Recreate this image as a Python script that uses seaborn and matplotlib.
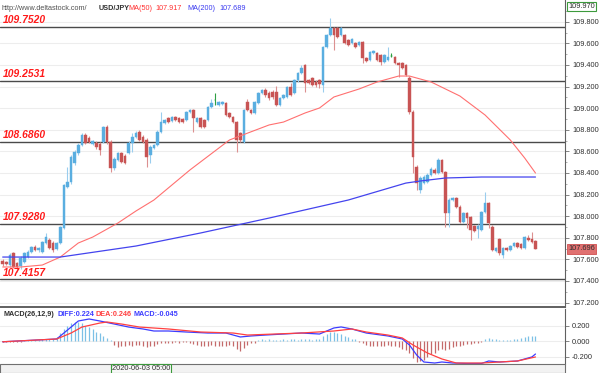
import matplotlib
matplotlib.use("Agg")
import matplotlib.pyplot as plt
import seaborn as sns
from matplotlib.patches import Rectangle

sns.set_style("white")
plt.rcParams["font.family"] = ["Liberation Sans", "DejaVu Sans"]
plt.rcParams["axes.unicode_minus"] = False

# USD/JPY candles (149 bars)
opens = [107.584, 107.575, 107.547, 107.658, 107.566, 107.538, 107.575, 107.621, 107.668, 107.714,
         107.686, 107.668, 107.751, 107.779, 107.751, 107.695, 107.751, 107.890, 108.270, 108.316,
         108.492, 108.584, 108.658, 108.751, 108.723, 108.668, 108.677, 108.668, 108.686, 108.825,
         108.686, 108.445, 108.520, 108.584, 108.557, 108.584, 108.677, 108.733, 108.779, 108.733,
         108.705, 108.566, 108.631, 108.658, 108.779, 108.862, 108.908, 108.881, 108.918, 108.908,
         108.899, 108.890, 108.964, 108.983, 108.871, 108.908, 108.890, 108.890, 109.010, 109.075,
         109.029, 109.038, 109.047, 108.955, 108.918, 108.871, 108.770, 108.686, 109.057, 108.983,
         108.955, 109.047, 109.140, 109.168, 109.140, 109.149, 109.149, 109.029, 109.094, 109.103,
         109.195, 109.140, 109.260, 109.325, 109.399, 109.260, 109.279, 109.242, 109.260, 109.214,
         109.566, 109.677, 109.742, 109.742, 109.677, 109.677, 109.631, 109.603, 109.603, 109.584,
         109.612, 109.464, 109.445, 109.510, 109.510, 109.492, 109.427, 109.445, 109.482, 109.473,
         109.418, 109.418, 109.399, 109.279, 108.964, 108.455, 108.242, 108.307, 108.316, 108.381,
         108.427, 108.399, 108.520, 108.408, 108.029, 108.149, 108.168, 108.084, 107.946, 108.029,
         107.992, 107.908, 107.881, 107.871, 108.038, 108.121, 107.899, 107.677, 107.788, 107.640,
         107.705, 107.686, 107.723, 107.751, 107.742, 107.705, 107.797, 107.788, 107.770]
highs = [107.603, 107.584, 107.658, 107.668, 107.575, 107.631, 107.668, 107.686, 107.723, 107.733,
         107.714, 107.770, 107.844, 107.797, 107.770, 107.760, 107.908, 108.297, 108.455, 108.566,
         108.612, 108.677, 108.770, 108.770, 108.742, 108.705, 108.695, 108.686, 108.834, 108.844,
         108.705, 108.547, 108.594, 108.594, 108.575, 108.695, 108.770, 108.788, 108.797, 108.751,
         108.723, 108.658, 108.668, 108.797, 108.964, 108.899, 108.918, 108.927, 108.927, 108.918,
         108.908, 108.973, 108.992, 108.992, 108.918, 108.918, 108.899, 109.020, 109.084, 109.140,
         109.066, 109.066, 109.057, 108.964, 108.927, 108.881, 108.779, 108.992, 109.084, 108.992,
         109.066, 109.149, 109.177, 109.186, 109.158, 109.168, 109.205, 109.103, 109.131, 109.205,
         109.233, 109.270, 109.334, 109.399, 109.408, 109.270, 109.288, 109.260, 109.270, 109.575,
         109.686, 109.834, 109.751, 109.751, 109.751, 109.686, 109.640, 109.649, 109.612, 109.621,
         109.621, 109.473, 109.529, 109.538, 109.520, 109.501, 109.501, 109.566, 109.510, 109.482,
         109.427, 109.427, 109.408, 109.297, 108.983, 108.473, 108.371, 108.381, 108.399, 108.455,
         108.445, 108.538, 108.529, 108.418, 108.168, 108.177, 108.177, 108.103, 108.038, 108.038,
         108.001, 107.918, 107.927, 108.047, 108.223, 108.131, 107.918, 107.714, 107.797, 107.714,
         107.714, 107.733, 107.760, 107.760, 107.751, 107.816, 107.825, 107.853, 107.779]
lows = [107.538, 107.547, 107.529, 107.520, 107.483, 107.510, 107.566, 107.612, 107.658, 107.677,
        107.668, 107.658, 107.742, 107.695, 107.668, 107.686, 107.742, 107.881, 108.260, 108.297,
        108.473, 108.566, 108.649, 108.668, 108.677, 108.658, 108.621, 108.566, 108.677, 108.668,
        108.408, 108.427, 108.510, 108.492, 108.482, 108.575, 108.594, 108.723, 108.695, 108.677,
        108.455, 108.492, 108.621, 108.649, 108.770, 108.853, 108.862, 108.871, 108.881, 108.862,
        108.862, 108.881, 108.955, 108.779, 108.862, 108.816, 108.816, 108.881, 109.001, 109.029,
        109.020, 109.029, 108.927, 108.908, 108.862, 108.594, 108.686, 108.677, 108.973, 108.945,
        108.945, 109.038, 109.131, 109.103, 109.075, 109.084, 109.020, 109.020, 109.084, 109.094,
        109.112, 109.131, 109.242, 109.316, 109.149, 109.223, 109.205, 109.195, 109.186, 109.149,
        109.557, 109.668, 109.538, 109.649, 109.668, 109.594, 109.575, 109.594, 109.557, 109.575,
        109.418, 109.427, 109.436, 109.501, 109.436, 109.399, 109.418, 109.436, 109.473, 109.408,
        109.288, 109.362, 109.297, 108.945, 108.399, 108.242, 108.214, 108.297, 108.307, 108.371,
        108.390, 108.390, 108.399, 107.899, 107.899, 108.140, 108.075, 107.936, 107.936, 107.890,
        107.779, 107.853, 107.797, 107.862, 108.029, 107.890, 107.677, 107.668, 107.640, 107.612,
        107.677, 107.677, 107.714, 107.705, 107.695, 107.695, 107.770, 107.751, 107.695]
closes = [107.557, 107.557, 107.640, 107.529, 107.529, 107.612, 107.658, 107.668, 107.714, 107.686,
          107.705, 107.760, 107.807, 107.705, 107.686, 107.751, 107.899, 108.288, 108.316, 108.547,
          108.594, 108.658, 108.751, 108.677, 108.686, 108.695, 108.640, 108.612, 108.825, 108.686,
          108.445, 108.529, 108.584, 108.501, 108.492, 108.677, 108.733, 108.770, 108.705, 108.686,
          108.547, 108.640, 108.658, 108.779, 108.871, 108.890, 108.871, 108.918, 108.890, 108.871,
          108.871, 108.964, 108.983, 108.908, 108.908, 108.825, 108.825, 109.010, 109.047, 109.075,
          109.057, 109.057, 108.936, 108.918, 108.871, 108.705, 108.705, 108.983, 108.983, 108.955,
          109.057, 109.140, 109.168, 109.121, 109.094, 109.103, 109.029, 109.094, 109.121, 109.195,
          109.121, 109.260, 109.325, 109.371, 109.233, 109.233, 109.214, 109.214, 109.223, 109.566,
          109.677, 109.742, 109.677, 109.658, 109.742, 109.603, 109.584, 109.640, 109.566, 109.612,
          109.464, 109.436, 109.520, 109.529, 109.445, 109.427, 109.492, 109.473, 109.482, 109.418,
          109.399, 109.371, 109.307, 108.964, 108.547, 108.307, 108.353, 108.362, 108.381, 108.436,
          108.399, 108.520, 108.408, 108.029, 108.149, 108.168, 108.084, 107.946, 108.029, 107.982,
          107.871, 107.862, 107.908, 108.038, 108.121, 107.936, 107.686, 107.705, 107.658, 107.705,
          107.686, 107.723, 107.751, 107.714, 107.705, 107.807, 107.779, 107.760, 107.696]

# moving averages, read at knots (bar index, price)
ma50_idx = [0, 5, 11, 16, 21, 25, 32, 37, 42, 52, 63, 74, 78, 84, 88, 92, 99, 104, 110, 113,
            119, 127, 134, 141, 145, 148]
ma50_val = [107.529, 107.529, 107.547, 107.621, 107.751, 107.806, 107.936, 108.047, 108.149, 108.427,
            108.705, 108.844, 108.871, 108.955, 109.001, 109.103, 109.177, 109.242, 109.297, 109.297,
            109.242, 109.112, 108.936, 108.705, 108.538, 108.399]
ma200_idx = [0, 16, 37, 55, 74, 96, 112, 116, 123, 133, 148]
ma200_val = [107.621, 107.621, 107.723, 107.844, 107.982, 108.149, 108.306, 108.325, 108.353, 108.362,
             108.362]

# support / resistance levels
level_prices = [109.7520, 109.2531, 108.6860, 107.9280, 107.4157]
level_labels = ["109.7520", "109.2531", "108.6860", "107.9280", "107.4157"]
price_ticks = [107.2, 107.4, 107.6, 107.8, 108.0, 108.2, 108.4, 108.6, 108.8, 109.0, 109.2, 109.4,
               109.6, 109.8]

# MACD panel
macd_hist = [-0.015, -0.015, -0.012, -0.012, -0.01, -0.01,
             0.01, 0.012, 0.015, 0.015, 0.018, 0.02, 0.02, 0.02, 0.025,
             0.05, 0.10, 0.15, 0.20, 0.23, 0.25, 0.25, 0.23, 0.20, 0.18, 0.15, 0.12, 0.10, 0.07, 0.04, 0.01,
             -0.05, -0.08, -0.07, -0.06, -0.05, -0.06, -0.05, -0.05, -0.06, -0.08,
             -0.07, -0.06, -0.04, -0.03, -0.02, -0.02, -0.02, -0.01, -0.02, -0.01,
             -0.01, -0.02, -0.04, -0.05, -0.06, -0.07, -0.06, -0.05, -0.06, -0.07,
             -0.06, -0.06, -0.05, -0.06, -0.10, -0.13, -0.09, -0.05, -0.03, -0.02,
             0.01, 0.02, 0.01, 0.02, 0.015, 0.01, 0.015, 0.02, 0.01, 0.02,
             0.02, 0.015, 0.02, 0.03, 0.02, 0.01, 0.02, 0.03, 0.06, 0.09,
             0.11, 0.11, 0.10, 0.09, 0.07, 0.05, 0.03, 0.02, -0.01, -0.03,
             -0.05, -0.06, -0.06, -0.06, -0.07, -0.06, -0.05, -0.06, -0.07, -0.08,
             -0.10, -0.11, -0.16, -0.22, -0.27, -0.26, -0.24, -0.21, -0.17, -0.15,
             -0.12, -0.10, -0.12, -0.10, -0.08, -0.07, -0.06, -0.05, -0.04, -0.04,
             -0.03, -0.03, -0.01, 0.02, 0.04, 0.03, 0.02, 0.01, 0.01, 0.015,
             0.01, 0.02, 0.03, 0.04, 0.05, 0.06, 0.07, 0.07]
diff_idx = [0, 15, 17, 19, 21, 24, 27, 31, 35, 39, 42, 46, 51, 57, 62, 66, 69, 73, 78, 83,
            88, 92, 94, 97, 101, 107, 111, 113, 115, 117, 120, 122, 125, 129, 133, 135, 138, 143, 147, 148]
diff_val = [-0.01, 0.026, 0.103, 0.18, 0.258, 0.284, 0.258, 0.219, 0.18, 0.155,
            0.129, 0.129, 0.116, 0.103, 0.103, 0.052, 0.065, 0.077, 0.09, 0.103,
            0.09, 0.168, 0.181, 0.155, 0.103, 0.065, 0.026, -0.052, -0.181, -0.271,
            -0.284, -0.271, -0.284, -0.29, -0.29, -0.258, -0.271, -0.258, -0.206, -0.168]
dea_idx = [0, 15, 19, 22, 27, 29, 33, 38, 46, 55, 64, 68, 83, 92, 97, 101, 107, 111, 114, 118,
           122, 126, 133, 138, 143, 148]
dea_val = [-0.01, 0.026, 0.103, 0.18, 0.232, 0.245, 0.219, 0.18, 0.155, 0.116,
           0.103, 0.077, 0.103, 0.129, 0.155, 0.116, 0.077, 0.039, -0.052, -0.155,
           -0.232, -0.284, -0.284, -0.271, -0.258, -0.206]
macd_ticks = [-0.2, 0.0, 0.2]

BLUE, RED, GREEN = "#5AAEE0", "#C85454", "#2EA043"
BLUE_W, RED_W = "#9ACDEE", "#DC9090"

W, H = 600, 373
fig = plt.figure(figsize=(6, 3.73), dpi=100)


def fy(px):
    return 1 - px / H


# ---- main price panel ----
ax = fig.add_axes([0, fy(307), 565 / W, 307 / H])
ax.set_xlim(-0.75, 156.2)
ax.set_ylim(110.001 - 0.009259 * 307, 110.001)

idx = list(range(len(closes)))
body_c, wick_c = [], []
for o, c in zip(opens, closes):
    if c > o:
        body_c.append(BLUE); wick_c.append(BLUE_W)
    elif c < o:
        body_c.append(RED); wick_c.append(RED_W)
    else:
        body_c.append(GREEN); wick_c.append(GREEN)
bottoms = [min(o, c) for o, c in zip(opens, closes)]
heights = [max(abs(c - o), 0.004) for o, c in zip(opens, closes)]

ax.set_axisbelow(True)
ax.grid(axis="y", color="#EDEDED", lw=0.8)
ax.grid(axis="x", visible=False)
for p in level_prices:
    ax.axhline(p, color="#4A4A4A", lw=1.0, zorder=1.5)
for p, lab in zip(level_prices, level_labels):
    ax.annotate(lab, xy=(0, p), xycoords=("axes fraction", "data"), xytext=(2, 1.2),
                textcoords="offset points", color="#FF1A1A", fontsize=7.4,
                fontweight="bold", fontstyle="italic", va="bottom", ha="left", zorder=5)

ax.vlines(idx, lows, highs, colors=wick_c, lw=0.8, zorder=3)
ax.bar(idx, heights, bottom=bottoms, width=0.72, color=body_c, edgecolor=body_c, lw=0.3, zorder=4)

sns.lineplot(x=ma50_idx, y=ma50_val, ax=ax, color="#FF7070", lw=0.8, zorder=4.5)
sns.lineplot(x=ma200_idx, y=ma200_val, ax=ax, color="#4444EE", lw=0.9, zorder=4.5)

ax.yaxis.tick_right()
ax.set_yticks(price_ticks)
ax.set_yticklabels([f"{t:.3f}" for t in price_ticks])
ax.set_yticks([t + 0.1 for t in price_ticks], minor=True)
ax.tick_params(axis="y", which="major", length=3, width=0.6, color="#707070",
               labelsize=5.3, labelcolor="#303030", pad=2, right=True, left=False)
ax.tick_params(axis="y", which="minor", length=1.5, width=0.5, color="#909090", right=True, left=False)
ax.set_xticks([])
ax.set_xlabel(""); ax.set_ylabel("")
for side in ("top", "left"):
    ax.spines[side].set_visible(False)
ax.spines["right"].set_color("#606060")
ax.spines["bottom"].set_color("#606060")
ax.spines["bottom"].set_linewidth(1.4)

# ---- MACD panel ----
ax2 = fig.add_axes([0, fy(364), 565 / W, (364 - 309) / H])
ax2.set_xlim(-0.75, 156.2)
ax2.set_ylim((341 - 364) / 77.5, (341 - 309) / 77.5)
ax2.set_axisbelow(True)
ax2.grid(axis="y", color="#EDEDED", lw=0.8)
ax2.grid(axis="x", visible=False)
hist_c = ["#7CC0E6" if v >= 0 else "#C46A6A" for v in macd_hist]
ax2.vlines(idx, 0, macd_hist, colors=hist_c, lw=0.9, zorder=3)
sns.lineplot(x=diff_idx, y=diff_val, ax=ax2, color="#3C3CFF", lw=0.9, zorder=4)
sns.lineplot(x=dea_idx, y=dea_val, ax=ax2, color="#FF4040", lw=0.9, zorder=4)
ax2.yaxis.tick_right()
ax2.set_yticks(macd_ticks)
ax2.set_yticklabels([f"{t:.3f}" for t in macd_ticks])
ax2.tick_params(axis="y", length=3, width=0.6, color="#707070", labelsize=5.3,
                labelcolor="#303030", pad=2, right=True, left=False)
ax2.set_xticks([])
ax2.set_xlabel(""); ax2.set_ylabel("")
for side in ("top", "left", "bottom"):
    ax2.spines[side].set_visible(False)
ax2.spines["right"].set_color("#606060")

# ---- header texts ----
hy = fy(8)
hdr = [(2, "http://www.deltastock.com/", "#505050", "normal"),
       (99, "USD/JPY", "#303030", "bold"),
       (128, "MA(50)", "#FF3030", "normal"),
       (155, "107.917", "#FF3030", "normal"),
       (187, "MA(200)", "#3A3AF0", "normal"),
       (219, "107.689", "#3A3AF0", "normal")]
for x, s, col, wt in hdr:
    fig.text(x / W, hy, s, color=col, fontsize=5.2, fontweight=wt, va="center", ha="left")

my = fy(315)
mhdr = [(3, "MACD(26,12,9)", "#303030"), (57, "DIFF:0.224", "#3C3CFF"),
        (96, "DEA:0.246", "#FF4040"), (133, "MACD:-0.045", "#3C3CFF")]
for x, s, col in mhdr:
    fig.text(x / W, my, s, color=col, fontsize=5.2, fontweight="bold", va="center", ha="left")

# top value box and last price box on the right axis
fig.text(568 / W, fy(6.5), "109.970", fontsize=5.3, color="#303030", va="center", ha="left",
         bbox=dict(boxstyle="square,pad=0.15", facecolor="white", edgecolor="#3C9A3C", lw=0.8))
fig.text(568 / W, fy(249), "107.696", fontsize=5.3, color="#303030", va="center", ha="left",
         bbox=dict(boxstyle="square,pad=0.15", facecolor="#E07070", edgecolor="#D05050", lw=0.6))

# date strip at the bottom
fig.add_artist(Rectangle((0, fy(373)), 565 / W, 9 / H, transform=fig.transFigure,
                         facecolor="#F2F2F2", edgecolor="#707070", lw=0.8))
fig.text(141 / W, fy(368.5), "2020-06-03 05:00", fontsize=5.3, color="#303030", va="center",
         ha="center", bbox=dict(boxstyle="square,pad=0.15", facecolor="#F8F8F8",
                                edgecolor="#3C9A3C", lw=0.8))

fig.savefig("out.png", dpi=100)
